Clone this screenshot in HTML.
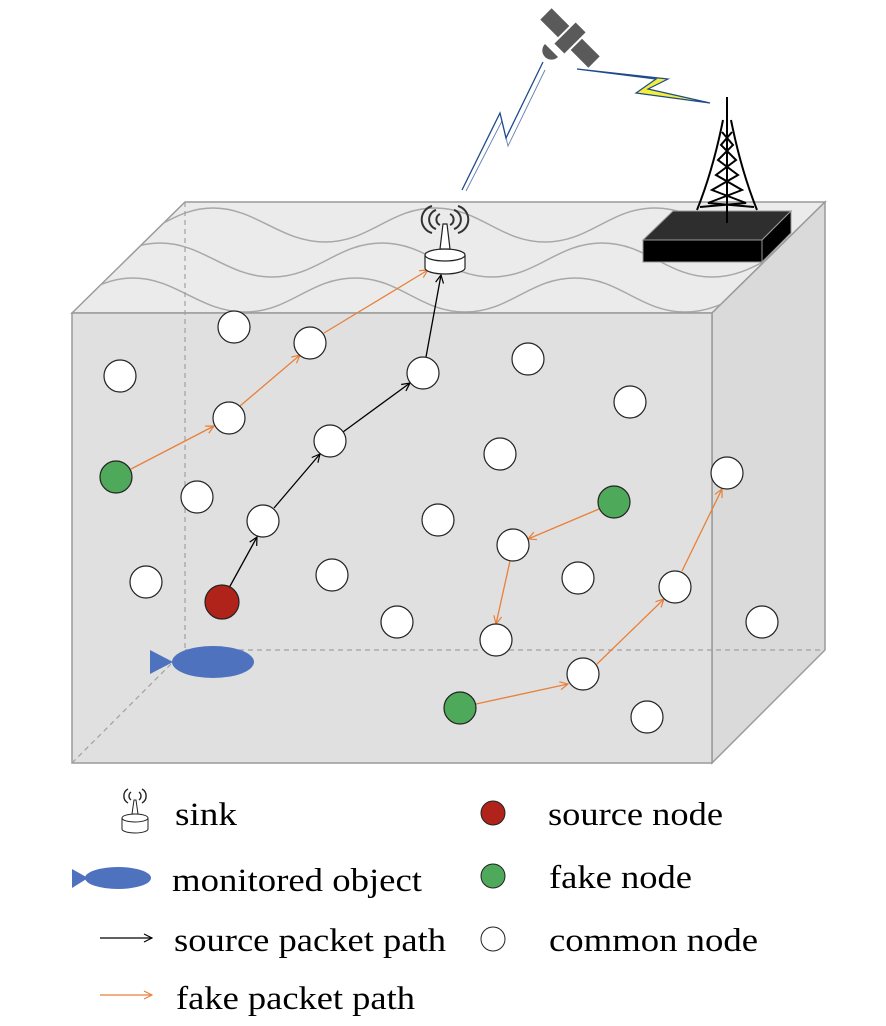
<!DOCTYPE html>
<html><head><meta charset="utf-8"><style>body{margin:0;background:#fff}svg{display:block}text{font-family:"Liberation Serif",serif;font-size:33px;fill:#000}</style></head>
<body>
<svg width="886" height="1026" viewBox="0 0 886 1026" xmlns="http://www.w3.org/2000/svg">
<defs>
<clipPath id="top"><polygon points="72,313 185,202 825,202 712,313"/></clipPath>
<marker id="ab" markerWidth="10" markerHeight="10" refX="9" refY="5" orient="auto" markerUnits="userSpaceOnUse"><path d="M1,1 L9,5 L1,9" fill="none" stroke="#000" stroke-width="1.2"/></marker>
<marker id="ao" markerWidth="10" markerHeight="10" refX="9" refY="5" orient="auto" markerUnits="userSpaceOnUse"><path d="M1,1 L9,5 L1,9" fill="none" stroke="#e8803a" stroke-width="1.2"/></marker>
</defs>
<!-- box -->
<polygon points="72,313 185,202 825,202 712,313" fill="#ebebeb" stroke="#9a9a9a" stroke-width="1.5"/>
<polygon points="712,313 825,202 825,650 712,763" fill="#dadada" stroke="#9a9a9a" stroke-width="1.5"/>
<g clip-path="url(#top)" fill="none" stroke="#a8a8a8" stroke-width="1.5">
<path d="M-14,208 C30,208 60,242 105,242 C150,242 170,208 213,208 C256,208 280,242 325,242 C370,242 390,208 435,208 C480,208 500,242 545,242 C590,242 610,208 655,208 C700,208 720,242 765,242 C810,242 830,208 875,208"/>
<path transform="translate(-23 0)" d="M-44,243 C0,243 30,277 75,277 C120,277 140,243 183,243 C226,243 250,277 295,277 C340,277 360,243 405,243 C450,243 470,277 515,277 C560,277 580,243 625,243 C670,243 690,277 735,277 C780,277 800,243 845,243 C890,243 910,277 955,277"/>
<path transform="translate(-20 0)" d="M-74,278 C-30,278 0,312 45,312 C90,312 110,278 153,278 C196,278 220,312 265,312 C310,312 330,278 375,278 C420,278 440,312 485,312 C530,312 550,278 595,278 C640,278 660,312 705,312 C750,312 770,278 815,278 C860,278 880,312 925,312"/>
</g>
<rect x="72" y="313" width="640" height="450" fill="#e0e0e0" stroke="#9a9a9a" stroke-width="1.5"/>
<g stroke="#a0a0a0" stroke-width="1.2" stroke-dasharray="5,4" fill="none">
<line x1="185" y1="202" x2="185" y2="650"/>
<line x1="185" y1="650" x2="825" y2="650"/>
<line x1="72" y1="763" x2="185" y2="650"/>
</g>
<!-- fish -->
<ellipse cx="213" cy="662" rx="41" ry="16" fill="#4f72be"/>
<polygon points="150,650 150,674 173,662" fill="#4f72be"/>
<!-- paths -->
<g stroke-width="1.3" fill="none">
<g stroke="#000" marker-end="url(#ab)">
<line x1="229" y1="588" x2="257" y2="537"/>
<line x1="274" y1="508" x2="320" y2="454"/>
<line x1="343" y1="432" x2="410" y2="383"/>
<line x1="426" y1="357" x2="441" y2="275"/>
</g>
<g stroke="#e8803a" marker-end="url(#ao)">
<line x1="131" y1="469" x2="214" y2="426"/>
<line x1="240" y1="406" x2="300" y2="355"/>
<line x1="324" y1="333" x2="428" y2="270"/>
<line x1="599" y1="509" x2="528" y2="539"/>
<line x1="510" y1="561" x2="496" y2="624"/>
<line x1="476" y1="704" x2="568" y2="684"/>
<line x1="597" y1="664" x2="664" y2="599"/>
<line x1="682" y1="571" x2="722" y2="489"/>
</g>
</g>
<!-- nodes -->
<g stroke="#222" stroke-width="1.2" fill="#fff">
<circle cx="234" cy="327" r="16"/><circle cx="310" cy="343" r="16"/><circle cx="120" cy="376" r="16"/><circle cx="528" cy="359" r="16"/><circle cx="630" cy="402" r="16"/><circle cx="229" cy="418" r="16"/><circle cx="423" cy="373" r="16"/><circle cx="330" cy="441" r="16"/><circle cx="500" cy="454" r="16"/><circle cx="197" cy="497" r="16"/><circle cx="727" cy="473" r="16"/><circle cx="263" cy="521" r="16"/><circle cx="438" cy="520" r="16"/><circle cx="513" cy="545" r="16"/><circle cx="146" cy="582" r="16"/><circle cx="332" cy="575" r="16"/><circle cx="578" cy="578" r="16"/><circle cx="675" cy="587" r="16"/><circle cx="397" cy="622" r="16"/><circle cx="496" cy="640" r="16"/><circle cx="762" cy="622" r="16"/><circle cx="583" cy="674" r="16"/><circle cx="647" cy="717" r="16"/>
<circle cx="116" cy="477" r="16" fill="#4fa95a"/><circle cx="614" cy="502" r="16" fill="#4fa95a"/><circle cx="460" cy="708" r="16" fill="#4fa95a"/>
<circle cx="222" cy="602" r="17" fill="#b0231b"/>
</g>
<!-- sink -->
<g stroke="#222" stroke-width="1.2" fill="#fff">
<path d="M425,255 L425,268 A20,6 0 0 0 465,268 L465,255"/>
<ellipse cx="445" cy="255" rx="20" ry="6"/>
<polygon points="440,249 450,249 447,224 443,224"/>
<g fill="none" stroke="#333" stroke-width="2">
<path d="M440,214 a6,6 0 0 0 0,11"/><path d="M450,214 a6,6 0 0 1 0,11"/>
<path d="M436,210 a10,10 0 0 0 0,19"/><path d="M454,210 a10,10 0 0 1 0,19"/>
<path d="M432,206 a14,14 0 0 0 0,27"/><path d="M458,206 a14,14 0 0 1 0,27"/>
</g>
</g>
<!-- links -->
<polyline points="462,190 500,113 506,138 543,62" fill="none" stroke="#1f4a8a" stroke-width="1.3"/>
<polyline points="466,191 502,121 508,146 545,70" fill="none" stroke="#1f4a8a" stroke-width="0.9" opacity="0.7"/>
<polygon points="577,69 656,79 636,93 710,103 648,89 668,79" fill="#f2ef3a" stroke="#1f4a8a" stroke-width="1.2"/>
<!-- satellite -->
<g transform="rotate(45 570 38)" fill="#5a5a5a">
<rect x="536" y="30" width="25" height="16"/>
<rect x="563" y="23" width="14" height="30"/>
<rect x="579" y="30" width="25" height="16"/>
</g>
<path d="M545,44 A9,9 0 0 0 558,57 Z" fill="#5a5a5a"/>
<!-- tower -->
<g stroke="#000" stroke-width="2" fill="none">
<line x1="727" y1="97" x2="727" y2="125"/>
<path d="M723,120 C715,160 705,190 697,210 M731,120 C739,160 749,190 757,210"/>
<path d="M722,132 L733,145 L718,160 L738,175 L712,190 L746,203 L700,207 M732,132 L721,145 L736,160 L716,175 L742,190 L708,203 L754,207"/>
<line x1="727" y1="125" x2="727" y2="222"/>
</g>
<polygon points="643,240 673,211 791,211 762,240" fill="#2e2e2e" stroke="#999"/>
<polygon points="762,240 791,211 791,233 762,262" fill="#000" stroke="#999"/>
<rect x="643" y="240" width="119" height="22" fill="#000" stroke="#999"/>
<line x1="727" y1="205" x2="727" y2="223" stroke="#000" stroke-width="2"/>
<!-- legend -->
<g stroke="#222" stroke-width="1" fill="#fff">
<path d="M122,818 L122,829 A13,4 0 0 0 148,829 L148,818"/>
<ellipse cx="135" cy="818" rx="13" ry="4"/>
<polygon points="132,814 138,814 136,800 134,800"/>
<g fill="none" stroke-width="1.4"><path d="M131,792 a5,5 0 0 0 0,8"/><path d="M139,792 a5,5 0 0 1 0,8"/><path d="M128,789 a8,8 0 0 0 0,14"/><path d="M142,789 a8,8 0 0 1 0,14"/></g>
<circle cx="493" cy="813" r="12" fill="#b0231b"/>
<circle cx="493" cy="876" r="12" fill="#4fa95a"/>
<circle cx="493" cy="939" r="12"/>
</g>
<ellipse cx="118" cy="878" rx="33" ry="11" fill="#4f72be"/>
<polygon points="72,869 72,888 88,878" fill="#4f72be"/>
<line x1="100" y1="938" x2="152" y2="938" stroke="#000" stroke-width="1.2" marker-end="url(#ab)"/>
<line x1="100" y1="995" x2="152" y2="995" stroke="#e8803a" stroke-width="1.2" marker-end="url(#ao)"/>
<text x="175" y="825" textLength="62" lengthAdjust="spacingAndGlyphs">sink</text>
<text x="172" y="891" textLength="250" lengthAdjust="spacingAndGlyphs">monitored object</text>
<text x="174" y="951" textLength="272" lengthAdjust="spacingAndGlyphs">source packet path</text>
<text x="176" y="1009" textLength="239" lengthAdjust="spacingAndGlyphs">fake packet path</text>
<text x="548" y="825" textLength="175" lengthAdjust="spacingAndGlyphs">source node</text>
<text x="549" y="888" textLength="143" lengthAdjust="spacingAndGlyphs">fake node</text>
<text x="549" y="951" textLength="209" lengthAdjust="spacingAndGlyphs">common node</text>
</svg>
</body></html>
